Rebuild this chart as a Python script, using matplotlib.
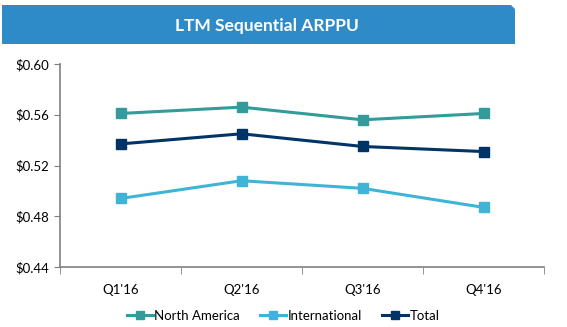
import matplotlib.pyplot as plt
from matplotlib.patches import Polygon
from matplotlib.ticker import FuncFormatter, FixedLocator

quarters = ["Q1'16", "Q2'16", "Q3'16", "Q4'16"]
north_america = [0.561, 0.566, 0.556, 0.561]
international = [0.494, 0.508, 0.502, 0.487]
total = [0.537, 0.545, 0.535, 0.531]

colors = {"North America": "#339B99", "International": "#3FB4D6", "Total": "#003466"}

plt.rcParams['font.family'] = ['Lato', 'DejaVu Sans']

fig = plt.figure(figsize=(5.67, 3.27), dpi=100)
W, H = 567, 327

# title banner with a clipped top-right corner
banner = Polygon([(2 / W, 1 - 44 / H), (515 / W, 1 - 44 / H), (515 / W, 1 - 9 / H),
                  (511 / W, 1 - 5 / H), (2 / W, 1 - 5 / H)],
                 closed=True, transform=fig.transFigure, facecolor="#2E8BC8", edgecolor="none")
fig.patches.append(banner)
fig.text(267 / W, 1 - 26 / H, "LTM Sequential ARPPU", color="white", fontsize=12.5,
         fontweight="bold", ha="center", va="center")

ax = fig.add_axes([60 / W, (H - 267) / H, (544 - 60) / W, (267 - 64) / H])

x = range(len(quarters))
series = [("North America", north_america), ("International", international), ("Total", total)]
for name, vals in series:
    ax.plot(x, vals, color=colors[name], lw=2.2, marker="s", markersize=7, label=name)

ax.set_xlim(-0.5, len(quarters) - 0.5)
ax.set_ylim(0.44, 0.60)
ax.set_yticks([0.44, 0.48, 0.52, 0.56, 0.60])
ax.yaxis.set_major_formatter(FuncFormatter(lambda v, p: f"${v:.2f}"))
ax.set_xticks(list(x))
ax.set_xticklabels(quarters)
ax.xaxis.set_minor_locator(FixedLocator([i - 0.5 for i in range(len(quarters) + 1)]))
ax.tick_params(axis="x", which="major", length=0, pad=12, labelsize=9.5)
ax.tick_params(axis="x", which="minor", length=5, color="#808080", direction="out")
ax.tick_params(axis="y", length=4, color="#808080", labelsize=9.5)

for side in ["top", "right"]:
    ax.spines[side].set_visible(False)
for side in ["left", "bottom"]:
    ax.spines[side].set_color("#808080")
    ax.spines[side].set_linewidth(1.2)

ax.legend(loc="center", bbox_to_anchor=(283 / W, 1 - 316 / H), bbox_transform=fig.transFigure,
          ncol=3, frameon=False, fontsize=9.5, handlelength=2.0, handletextpad=0.1,
          columnspacing=1.5, markerscale=0.9)

fig.savefig("out.png", dpi=100)
